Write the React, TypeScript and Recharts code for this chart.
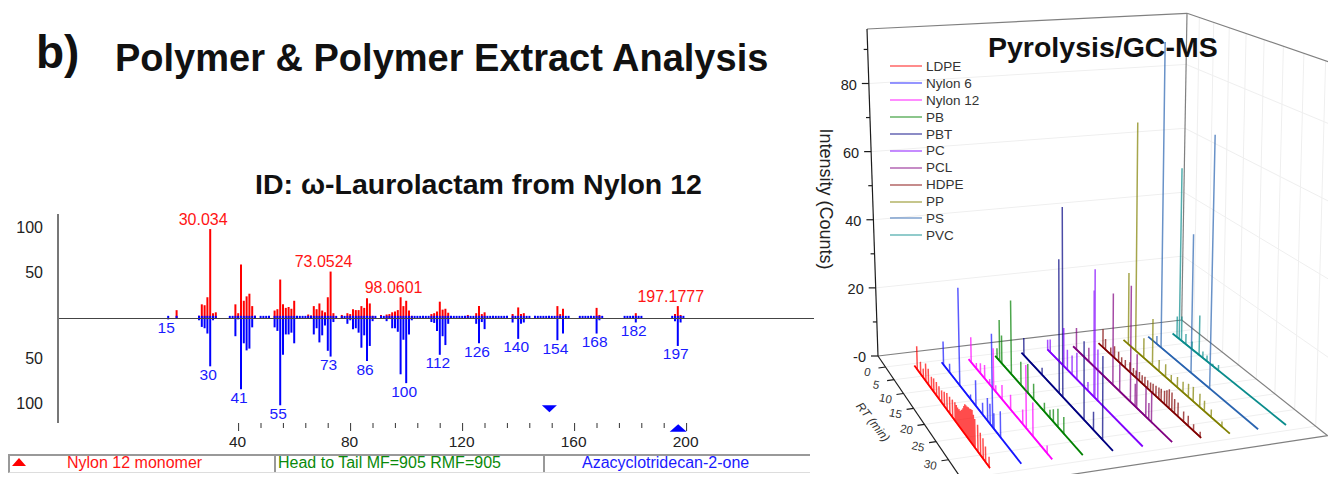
import React from 'react';
import {
  BarChart, Bar, XAxis, YAxis, ReferenceLine, ReferenceDot, LabelList,
  ComposedChart, Line, Scatter, Legend,
} from 'recharts';

/* ---------- mass spectrum ---------- */
const nylonPeaks: [number, number][] = [
  [18,9.4],[26,3],[27,16],[28,15],[29,24],[30,101],[31,6],[32,7],[39,16],[40,6],[41,61],[42,20],[43,25],[44,28],[45,14],[46,3],
  [53,9],[54,10.5],[55,44],[56,16],[57,12],[58,13],[59,11],[60,20],[65,4.5],[66,3.5],[67,14],[68,10.5],[69,17],[70,9],[71,7],[72,24],[73,53],[74,6],
  [77,4],[79,6],[80,5],[81,10.5],[82,9.5],[83,9.5],[84,14],[85,12],[86,23],[87,17],[88,3],[91,4],[93,4.5],[94,5],[95,7],[96,8],[97,9.5],[98,24],[99,14],[100,20],[101,9],[102,3],
  [109,5],[110,6],[111,8],[112,19],[113,10],[114,11],[115,6.5],[122,4],[125,6],[126,14],[127,5],[128,7],[138,5],[140,12.5],[141,5],[142,6],
  [154,14],[155,5],[156,11],[168,12],[169,4],[182,6],[196,5],[197,14],[198,4],
];
const libraryPeaks: [number, number][] = [
  [15,-1],[26,-2],[27,-9.5],[28,-11],[29,-17],[30,-54],[31,-2],[39,-20],[40,-1],[41,-80],[42,-28],[43,-36],[44,-34],[45,-10],
  [53,-10],[54,-14],[55,-98],[56,-41],[57,-18],[58,-18],[59,-16],[60,-28],[67,-18],[68,-11],[69,-27],[70,-19],[71,-8],[72,-36.5],[73,-43],[74,-4],
  [79,-6],[80,-2],[81,-12],[82,-11],[83,-16],[84,-33],[85,-19],[86,-48],[87,-31],[88,-3],[93,-3],[95,-11],[96,-11],[97,-15],[98,-63],[99,-24],[100,-73],[101,-18],[102,-2],
  [109,-4],[110,-5],[111,-14],[112,-41],[113,-20],[114,-30],[115,-6],[125,-6],[126,-28],[127,-4],[128,-12],[138,-4.5],[140,-23],[141,-6],[142,-4.5],
  [154,-24.5],[156,-17],[168,-17],[169,-2],[182,-4.5],[196,-3],[197,-31],[198,-4.5],
];
const libraryNoise: number[] = [
  15,18,26,27,28,29,30,31,32,37,38,39,40,41,42,43,44,45,46,48,49,50,51,53,54,55,56,57,58,59,60,61,62,63,64,65,66,67,68,69,70,71,72,73,74,75,
  77,78,79,80,81,82,83,84,85,86,87,88,89,91,92,93,94,95,96,97,98,99,100,101,102,103,104,105,106,107,108,109,110,111,112,113,114,115,116,117,118,119,120,121,
  122,123,124,125,126,127,128,129,130,131,132,133,134,135,136,138,139,140,141,142,143,144,146,147,148,149,150,151,152,153,154,155,156,157,158,
  162,163,164,165,166,167,168,169,170,178,179,180,181,182,183,184,195,196,197,198,199,
];
const redLabels: [number, string][] = [[30,'30.034'],[73,'73.0524'],[98,'98.0601'],[197,'197.1777']];
const blueLabels: [number, string][] = [[15,'15'],[30,'30'],[41,'41'],[55,'55'],[73,'73'],[86,'86'],[100,'100'],[112,'112'],[126,'126'],[140,'140'],[154,'154'],[168,'168'],[182,'182'],[197,'197']];
const mzTicks = [40,48,56,64,72,80,88,96,104,112,120,128,136,144,152,160,168,176,184,192,200];
const intensityTicks = [-100,-50,50,100];

const allMz = Array.from(new Set([...nylonPeaks.map(p=>p[0]),...libraryPeaks.map(p=>p[0]),...libraryNoise])).sort((a,b)=>a-b);
const redMap = new Map(nylonPeaks), blueMap = new Map(libraryPeaks), noiseSet = new Set(libraryNoise);
const redLabelMap = new Map(redLabels), blueLabelMap = new Map(blueLabels);
const spectrumRows = allMz.map(mz => ({
  mz,
  red: redMap.get(mz) ?? null,
  blue: blueMap.get(mz) ?? null,
  noise: noiseSet.has(mz) ? 3 : null,
  redLabel: redLabelMap.get(mz) ?? null,
  blueLabel: blueLabelMap.get(mz) ?? null,
}));

/* ---------- pyrolysis traces: [retention time (min), intensity] ---------- */
const LDPE: [number,number][] = [[1.8,6.7],[3.6,3.5],[5,2.6],[6.3,5],[7.6,4.5],[9.1,3.4],[10.2,3.8],[11.5,3.8],[12.7,3.6],[13.9,3.4],[15.1,4],[16.3,4.6],[17.5,4.6],[18.7,4.8],[19.8,5],[20.4,4.8],[20.9,4.5],[21.5,4.6],[22,4.6],[22.6,5.4],[23.2,6.3],[23.6,7.2],[24,8],[24.4,8.1],[24.9,8.2],[25.4,8.4],[25.9,8.5],[26.4,8.8],[26.9,9],[27.4,8.2],[27.9,7.5],[29,7],[30,5.8],[31,5.3],[31.9,4],[33.2,2.6]];
const Nylon6: [number,number][] = [[1.2,6.7],[4.3,2.5],[9.1,27.4],[13.9,1.3],[16.2,7],[19,3.2],[21,6.1],[22,5.4],[23,24.8],[23.5,4.2],[26,6.8]];
const Nylon12: [number,number][] = [[1.5,7.2],[4,1.6],[5.9,2.9],[7.8,3.8],[10,1.5],[11.7,11.4],[12.6,1.8],[15.2,3.9],[18.6,4],[23.2,3.9],[24.5,16.7],[26.9,8.8],[31.8,2]];
const PB: [number,number][] = [[1.1,2.8],[2.3,11.8],[3.3,8],[7.5,20.8],[11.5,6.5],[14.3,8],[16.5,4.3],[20.5,2.4],[22.5,2.2],[23.7,3.3],[25.3,4.8],[27.3,4.3]];
const PBT: [number,number][] = [[1.3,5],[9,2],[15.6,36.6],[16.9,51.7],[24.3,20.7],[27.4,4.7],[30.3,21.5]];
const PC: [number,number][] = [[0.3,2.9],[1.4,3.7],[7,10.8],[8.4,5.6],[10.2,5.3],[12,7.4],[16,2.4],[18.1,28.8],[18.4,34.7],[19.4,13.8]];
const PCL: [number,number][] = [[1.6,6.2],[6.5,3.9],[15.2,25],[17.5,7.7],[21,31],[22.5,6],[23,14.2],[25.8,7.8],[26.7,4.3],[27.5,8]];
const HDPE: [number,number][] = [[2,5.2],[3,3],[5,2],[6.4,3.3],[7.9,2.8],[9,2],[10.3,2.2],[11.9,2.7],[13.1,2],[14,2],[15.1,2.4],[16,2.2],[16.9,2.5],[17.8,2.2],[18.7,2.3],[19.5,2.6],[20.4,2.8],[21.3,3],[22,3.2],[23,3.5],[23.7,4.2],[24.4,5],[25.2,4.8],[26,3.7],[27,3.6],[28.6,2.6],[29.9,2.6],[31.4,1.7],[33.2,1.3]];
const PP: [number,number][] = [[2.1,20.5],[4.8,65],[7.7,5.5],[10.7,12.9],[12.9,3.1],[15,3.5],[16.8,1.9],[18.7,2.8],[20.4,2.8],[22,3.5],[23.4,3.8],[25.3,3.5],[26.6,2.7],[28.5,2],[31.4,1.3]];
const PS: [number,number][] = [[3.4,2.3],[4.9,87],[14.8,38],[20.4,68]];
const PVC: [number,number][] = [[1.8,5.9],[2.6,49],[3.4,6.9],[4.9,2.9],[7,2.2],[9.3,11],[10.5,1.8],[11.8,1.6],[13.6,0.6],[15.3,1.5]];

const polymerNames = ['LDPE','Nylon 6','Nylon 12','PB','PBT','PC','PCL','HDPE','PP','PS','PVC'];
const polymerPeaks = [LDPE,Nylon6,Nylon12,PB,PBT,PC,PCL,HDPE,PP,PS,PVC];
const polymerColors = ['#ff0000','#1414ff','#ff00ff','#008000','#000080','#8000ff','#800080','#800000','#808000','#2a64b0','#0a8c8c'];
const yMajor = [20,40,60,80];
const yMinor = [10,30,50,70,90];
const rtTicks = [0,5,10,15,20,25,30,35];

/* ---------- projection (stage pixels) ---------- */
type P = {x:number;y:number};
const A:P={x:878,y:356},B:P={x:1181.7,y:320},C:P={x:1327.7,y:435.7},D:P={x:969,y:490};
const At:P={x:867,y:29},Bt:P={x:1187,y:13.3},Ct:P={x:1338,y:65},Dt:P={x:961,y:120};
const lerp=(a:number,b:number,t:number)=>a+(b-a)*t;
const mix=(p:P,q:P,t:number):P=>({x:lerp(p.x,q.x,t),y:lerp(p.y,q.y,t)});
const frame=(u:number,v:number,I:number):P=>{
  const f=mix(mix(A,B,u),mix(D,C,u),v), t=mix(mix(At,Bt,u),mix(Dt,Ct,u),v);
  return mix(f,t,I/96);
};
const rtV=(rt:number)=>{const s=rt/35;return 0.082+0.636*s+0.2*s*s;};
const traceT=(rt:number)=>{const r=rt/33.5;return 0.8*r+0.2*r*r;};
const traceBase=(i:number,rt:number):P=>{
  const t=traceT(rt);
  return {
    x:lerp(914+27.4*i-0.16*i*i,990+31.5*i-0.19*i*i,t),
    y:lerp(365-3.2*i,468-4.3*i,t),
  };
};
const peakTop=(i:number,rt:number,v:number):P=>{
  const b=traceBase(i,rt);
  const h=v*(3.45+0.5*traceT(rt));
  const lean=-0.034+(b.x-878)*0.000168;
  return {x:b.x+lean*h,y:b.y-h};
};
const peakPath=(i:number)=>polymerPeaks[i].flatMap(([rt,v])=>[traceBase(i,rt),peakTop(i,rt,v),traceBase(i,rt)]);
const basePath=(i:number)=>[traceBase(i,0.2),traceBase(i,33.5)];

const gridSegments:P[][]=[
  ...yMajor.map(I=>[frame(0,0,I),frame(1,0,I)]),
  ...yMajor.map(I=>[frame(1,0,I),frame(1,1,I)]),
  ...rtTicks.map(rt=>[frame(1,rtV(rt),0),frame(1,rtV(rt),96)]),
  ...rtTicks.map(rt=>[frame(0,rtV(rt),0),frame(1,rtV(rt),0)]),
];
const frameSegments:P[][]=[[A,B],[At,Bt],[B,Bt],[Bt,Ct],[B,C],[D,C]];
const darkSegments:P[][]=[
  [A,At],[A,D],
  ...[0,...yMajor].map(I=>{const p=frame(0,0,I);return [p,{x:p.x-7,y:p.y}];}),
  ...yMinor.map(I=>{const p=frame(0,0,I);return [p,{x:p.x-4,y:p.y}];}),
  ...rtTicks.map(rt=>{const p=frame(0,rtV(rt),0);return [p,{x:p.x-7,y:p.y+1}];}),
];
const yLabelMarks=[0,...yMajor].map(I=>{const p=frame(0,0,I);return {x:p.x-12,y:p.y+1,text:I===0?'-0':String(I)};});
const rtLabelMarks=rtTicks.map(rt=>{const p=frame(0,rtV(rt),0);return {x:p.x-18,y:p.y+5,text:String(rt)};});
const intensityTitle=[{x:826,y:199,text:'Intensity (Counts)'}];
const rtTitle=[{x:873,y:422,text:'RT (min)'}];

const FONT='"Liberation Sans", Arial, sans-serif';

/* ---------- small renderers ---------- */
const RedLabel=(p:any)=>{
  if(p.value==null) return null;
  return <text x={p.x+p.width/2-7} y={Math.min(p.y,p.y+p.height)-10} textAnchor="middle" dominantBaseline="central" fontSize={16} fill="#ff1414" fontFamily={FONT}>{p.value}</text>;
};
const BlueLabel=(p:any)=>{
  if(p.value==null) return null;
  return <text x={p.x+p.width/2-2} y={Math.max(p.y,p.y+p.height)+8} textAnchor="middle" dominantBaseline="central" fontSize={15.5} fill="#1a1aff" fontFamily={FONT}>{p.value}</text>;
};
const MzTick=(p:any)=>{
  const v=p.payload.value, major=v%40===0;
  return <g>
    <line x1={p.x} x2={p.x} y1={p.y} y2={p.y+(major?8:5)} stroke="#333" strokeWidth={1}/>
    {major&&<text x={p.x-1} y={p.y+18} textAnchor="middle" dominantBaseline="central" fontSize={15.5} fill="#222" fontFamily={FONT}>{v}</text>}
  </g>;
};
const IntTick=(p:any)=>(
  <text x={p.x-1} y={p.y+(p.payload.value>0?-2:-4)} textAnchor="end" dominantBaseline="central" fontSize={16} fill="#222" fontFamily={FONT}>{Math.abs(p.payload.value)}</text>
);
const TriDown=(p:any)=><polygon points={`${p.cx-7.5},${p.cy-3.5} ${p.cx+7.5},${p.cy-3.5} ${p.cx},${p.cy+3.5}`} fill="#0000ff"/>;
const TriUp=(p:any)=><polygon points={`${p.cx-8.5},${p.cy+3.5} ${p.cx+8.5},${p.cy+3.5} ${p.cx},${p.cy-4}`} fill="#0000ff"/>;

const textShape=(opts:any)=>(p:any)=>(
  <text x={p.cx} y={p.cy} textAnchor={opts.anchor} dominantBaseline="central" fontSize={opts.size} fontStyle={opts.style} fill={opts.fill}
    fontFamily={FONT} transform={opts.rot?`rotate(${opts.rot} ${p.cx} ${p.cy})`:undefined}>{p.payload.text}</text>
);

const PolyLegend=(p:any)=>(
  <div style={{fontFamily:FONT,fontSize:13.5,color:'#333'}}>
    {polymerNames.map((n)=>{
      const e=(p.payload||[]).find((x:any)=>x.value===n);
      if(!e) return null;
      return (
      <div key={n} style={{display:'flex',alignItems:'center',height:16.9}}>
        <span style={{display:'inline-block',width:32,height:2,background:e.color,opacity:0.45,marginRight:4}}/>
        <span>{n}</span>
      </div>);
    })}
  </div>
);

const abs=(l:number,t:number,extra:any={}):any=>({position:'absolute',left:l,top:t,fontFamily:FONT,whiteSpace:'nowrap',...extra});

export default function App(){
  const xDomain:[number,number]=[-24.5,245.5];
  return (
    <div style={{position:'relative',width:1336,height:482,margin:-8,overflow:'hidden',background:'#fff'}}>
      {/* 3D pyrolysis panel */}
      <div style={{position:'absolute',left:810,top:0}}>
        <ComposedChart width={526} height={482} margin={{top:0,right:0,bottom:0,left:0}}>
          <XAxis type="number" dataKey="x" domain={[810,1336]} allowDataOverflow hide/>
          <YAxis type="number" dataKey="y" domain={[0,482]} allowDataOverflow reversed hide width={0}/>
          {gridSegments.map((d,i)=><Line key={'g'+i} data={d} dataKey="y" stroke="#efefef" strokeWidth={1} dot={false} isAnimationActive={false} legendType="none"/>)}
          {frameSegments.map((d,i)=><Line key={'f'+i} data={d} dataKey="y" stroke="#808080" strokeWidth={1.2} dot={false} isAnimationActive={false} legendType="none"/>)}
          {darkSegments.map((d,i)=><Line key={'d'+i} data={d} dataKey="y" stroke="#1c1c1c" strokeWidth={1.2} dot={false} isAnimationActive={false} legendType="none"/>)}
          {polymerNames.map((n,i)=><Line key={'b'+i} data={basePath(i)} dataKey="y" stroke={polymerColors[i]} strokeWidth={1.8} dot={false} isAnimationActive={false} legendType="none"/>)}
          {polymerNames.map((n,i)=><Line key={n} name={n} data={peakPath(i)} dataKey="y" stroke={polymerColors[i]} strokeOpacity={0.7} strokeWidth={1.5} dot={false} isAnimationActive={false}/>)}
          <Scatter data={yLabelMarks} isAnimationActive={false} legendType="none" shape={textShape({anchor:'end',size:14.5,fill:'#222'})}/>
          <Scatter data={rtLabelMarks} isAnimationActive={false} legendType="none" shape={textShape({anchor:'middle',size:11.5,fill:'#333',rot:12})}/>
          <Scatter data={intensityTitle} isAnimationActive={false} legendType="none" shape={textShape({anchor:'middle',size:18,fill:'#222',rot:90})}/>
          <Scatter data={rtTitle} isAnimationActive={false} legendType="none" shape={textShape({anchor:'middle',size:12,fill:'#333',rot:52,style:'italic'})}/>
          <Legend layout="vertical" align="center" verticalAlign="middle" itemSorter={null as any} content={PolyLegend}
            wrapperStyle={{left:80,top:58,width:110,height:190,bottom:'auto',right:'auto'}}/>
        </ComposedChart>
      </div>

      {/* mass spectrum */}
      <div style={{position:'absolute',left:0,top:200}}>
        <BarChart width={830} height={260} data={spectrumRows} margin={{top:14,right:16,bottom:0,left:0}} barGap={0}>
          <XAxis xAxisId="main" type="number" dataKey="mz" domain={xDomain} ticks={mzTicks} interval={0} axisLine={false} tickLine={false} tickSize={0} tickMargin={0} height={37} tick={MzTick}/>
          <XAxis xAxisId="lib" type="number" dataKey="mz" domain={xDomain} hide height={0}/>
          <XAxis xAxisId="noise" type="number" dataKey="mz" domain={xDomain} hide height={0}/>
          <YAxis type="number" domain={[-118,118]} ticks={intensityTicks} interval={0} width={58} axisLine={{stroke:'#777',strokeWidth:2}} tickLine={false} tickSize={0} tickMargin={14} tick={IntTick}/>
          <Bar xAxisId="main" dataKey="red" fill="#ff0000" barSize={2} isAnimationActive={false}>
            <LabelList dataKey="redLabel" content={RedLabel}/>
          </Bar>
          <Bar xAxisId="lib" dataKey="blue" fill="#0000ff" barSize={2} isAnimationActive={false}>
            <LabelList dataKey="blueLabel" content={BlueLabel}/>
          </Bar>
          <Bar xAxisId="noise" dataKey="noise" fill="#0000ff" barSize={2} isAnimationActive={false}/>
          <ReferenceLine xAxisId="main" y={0} stroke="#444" strokeWidth={1.2}/>
          <ReferenceDot xAxisId="main" x={151} y={-102} ifOverflow="visible" shape={TriDown}/>
          <ReferenceDot xAxisId="main" x={197} y={-124} ifOverflow="visible" shape={TriUp}/>
        </BarChart>
      </div>

      {/* headings */}
      <div style={abs(36,26,{fontSize:46,fontWeight:700,color:'#111',lineHeight:'52px'})}>b)</div>
      <div style={abs(115,36,{fontSize:38,fontWeight:700,color:'#111',lineHeight:'44px'})}>Polymer &amp; Polymer Extract Analysis</div>
      <div style={abs(255,167,{fontSize:28.5,fontWeight:700,color:'#111',lineHeight:'34px'})}>ID: ω-Laurolactam from Nylon 12</div>
      <div style={abs(988,30,{fontSize:28.5,fontWeight:700,color:'#111',lineHeight:'34px'})}>Pyrolysis/GC-MS</div>

      {/* status bar */}
      <div style={{position:'absolute',left:8,top:454,width:800,height:16,borderTop:'2px solid #999',borderLeft:'2px solid #999',borderBottom:'1px solid #ddd'}}/>
      <div style={{position:'absolute',left:274,top:454,width:2,height:18,background:'#999'}}/>
      <div style={{position:'absolute',left:543,top:454,width:2,height:18,background:'#999'}}/>
      <svg style={{position:'absolute',left:12,top:458}} width={15} height={9}><polygon points="0,8 14,8 7,0" fill="#ff0000"/></svg>
      <div style={abs(67,454,{fontSize:16,color:'#ff1414',lineHeight:'18px'})}>Nylon 12 monomer</div>
      <div style={abs(278,454,{fontSize:16,color:'#0a8a0a',lineHeight:'18px'})}>Head to Tail MF=905 RMF=905</div>
      <div style={abs(582,454,{fontSize:16,color:'#1a1aff',lineHeight:'18px'})}>Azacyclotridecan-2-one</div>
    </div>
  );
}
